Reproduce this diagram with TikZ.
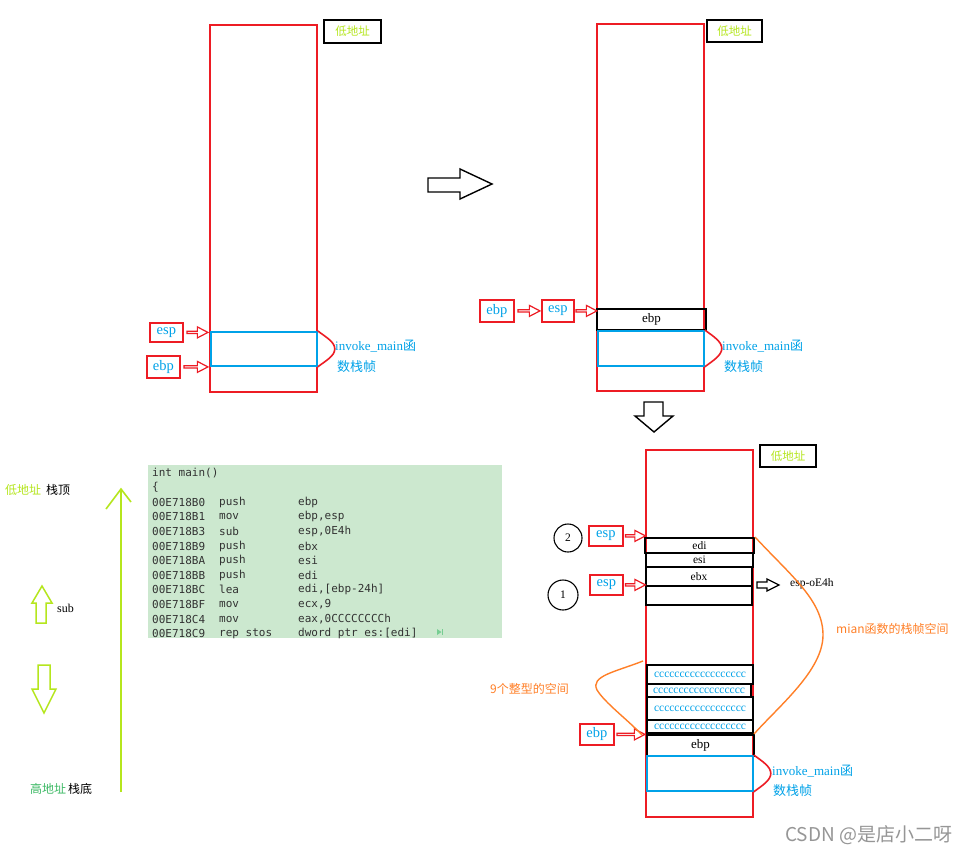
\documentclass[tikz,border=0pt]{standalone}
\usepackage{fontspec}
\setmainfont{Liberation Serif}
\newfontfamily\cjk{Noto Sans CJK SC}
\newfontfamily\codefont{DejaVu Sans Mono}
\usetikzlibrary{calc,shapes.arrows}
\definecolor{pred}{RGB}{237,28,36}
\definecolor{pblue}{RGB}{0,162,232}
\definecolor{plime}{RGB}{181,230,29}
\definecolor{porange}{RGB}{255,127,39}
\definecolor{pgreen}{RGB}{60,185,100}
\definecolor{codebg}{RGB}{204,232,207}
\definecolor{codefg}{RGB}{50,50,50}
\definecolor{wmgray}{RGB}{150,150,150}
\tikzset{
  stackbox/.style={draw=pred, line width=1.7pt, anchor=north west, inner sep=0pt},
  slot/.style={draw=black, line width=2pt, anchor=north west, inner sep=0pt, font=\fontsize{11.5}{11.5}\selectfont},
  frame/.style={draw=pblue, line width=1.8pt, anchor=north west, inner sep=0pt},
  reg/.style={draw=pred, line width=1.8pt, anchor=north west, inner sep=0pt, text=pblue, font=\fontsize{14.5}{14.5}\selectfont},
  lowaddr/.style={draw=black, line width=2pt, anchor=north west, inner sep=0pt, text=plime, font=\cjk\fontsize{11.5}{11.5}\selectfont},
  redarr/.style={single arrow, draw=pred, line width=1.2pt, fill=white, inner sep=0pt, minimum width=11pt, single arrow head extend=2.5pt, single arrow tip angle=55, minimum height=#1},
  bluetxt/.style={anchor=west, inner sep=0pt, text=pblue, font=\fontsize{13}{13}\selectfont},
  oratxt/.style={anchor=west, inner sep=0pt, text=porange, font=\cjk\fontsize{12}{12}\selectfont},
  plain/.style={anchor=west, inner sep=0pt, font=\fontsize{12}{12}\selectfont},
  code/.style={anchor=west, inner sep=0pt, text=codefg, font=\codefont\fontsize{11}{11}\selectfont},
  ccc/.style={slot, text=pblue},
  bracket/.style={draw=pred, line width=1.6pt},
  num/.style={circle, draw=black, line width=1.1pt, inner sep=0pt, minimum size=28pt, font=\fontsize{11.5}{11.5}\selectfont},
  bigarr/.style={draw=black, line width=1.4pt, fill=white},
  greenarr/.style={draw=plime, line width=1.5pt, fill=white}
}
\newcommand{\asmline}[4]{%
  \node[code] (ad#1) at (152,{473+14.6*#1}) {#2};
  \node[code] (op#1) at (219,{473+14.6*#1}) {#3};
  \node[code] (ar#1) at (298,{473+14.6*#1}) {#4};}
\begin{document}
\begin{tikzpicture}[x=1pt,y=-1pt]
\useasboundingbox (0,0) rectangle (971,856);
\fill[white] (0,0) rectangle (971,856);

% ---------- top-left stack ----------
\node[stackbox, minimum width=107pt, minimum height=367pt] (stackA) at (209,24) {};
\node[lowaddr, minimum width=57pt, minimum height=23pt] (lowA) at (323,19) {低地址};
\node[frame, minimum width=106pt, minimum height=34pt] (frameA) at (210,331) {};
\node[reg, minimum width=33pt, minimum height=19pt] (espA) at (149,322) {esp};
\node[reg, minimum width=33pt, minimum height=22pt] (ebpA) at (146,355) {ebp};
\path (espA.east) -- (espA.east -| stackA.west) node[midway, redarr=21pt] (arA1) {};
\path (ebpA.east) -- (ebpA.east -| stackA.west) node[midway, redarr=24pt] (arA2) {};
\draw[bracket] (frameA.north east) .. controls +(8,6) and +(0,-7) .. ($(frameA.east)+(17,0)$)
  .. controls +(0,7) and +(8,-6) .. (frameA.south east);
\node[bluetxt] (invA1) at (335,346) {invoke\_main{\cjk 函}};
\node[bluetxt] (invA2) at (337,367) {\cjk 数栈帧};

% big right arrow
\draw[bigarr] (428,178) -- (460,178) -- (460,169) -- (492,184) -- (460,199) -- (460,192) -- (428,192) -- cycle;

% ---------- top-right stack ----------
\node[stackbox, minimum width=107pt, minimum height=367pt] (stackB) at (596,23) {};
\node[lowaddr, minimum width=55pt, minimum height=22pt] (lowB) at (706,19) {低地址};
\node[slot, minimum width=109pt, minimum height=21pt, font=\fontsize{13}{13}\selectfont] (ebpSlotB) at (596,308) {ebp};
\node[frame, minimum width=106pt, minimum height=35pt] (frameB) at (597,330) {};
\node[reg, minimum width=34pt, minimum height=22pt] (ebpB) at (479,299) {ebp};
\node[reg, minimum width=32pt, minimum height=22pt] (espB) at (541,299) {esp};
\path (ebpB.east) -- (espB.west) node[midway, redarr=22pt] (arB1) {};
\path (espB.east) -- (espB.east -| stackB.west) node[midway, redarr=21pt] (arB2) {};
\draw[bracket] (frameB.north east) .. controls +(8,6) and +(0,-7) .. ($(frameB.east)+(17,0)$)
  .. controls +(0,7) and +(8,-6) .. (frameB.south east);
\node[bluetxt] (invB1) at (722,346) {invoke\_main{\cjk 函}};
\node[bluetxt] (invB2) at (724,367) {\cjk 数栈帧};

% big down arrow
\draw[bigarr] (644,402) -- (663,402) -- (663,416) -- (673,416) -- (654,432) -- (635,416) -- (644,416) -- cycle;

% ---------- bottom-right stack ----------
\node[stackbox, minimum width=107pt, minimum height=367pt] (stackC) at (645,449) {};
\node[lowaddr, minimum width=56pt, minimum height=22pt] (lowC) at (759,444) {低地址};
\node[slot, minimum width=109pt, minimum height=15pt] (edi) at (644,537) {edi};
\node[slot, minimum width=107pt, minimum height=14pt] (esi) at (645,552) {esi};
\node[slot, minimum width=106pt, minimum height=19pt] (ebx) at (645,566) {ebx};
\node[slot, minimum width=106pt, minimum height=19pt] (emp) at (645,585) {};
\node[ccc, minimum width=106pt, minimum height=19pt] (c1) at (646,664) {cccccccccccccccccc};
\node[ccc, minimum width=104pt, minimum height=13pt] (c2) at (646,683) {cccccccccccccccccc};
\node[ccc, minimum width=106pt, minimum height=23pt] (c3) at (646,696) {cccccccccccccccccc};
\node[ccc, minimum width=106pt, minimum height=13pt] (c4) at (646,719) {cccccccccccccccccc};
\node[slot, minimum width=107pt, minimum height=21pt, font=\fontsize{13}{13}\selectfont] (ebpSlotC) at (646,734) {ebp};
\node[frame, minimum width=106pt, minimum height=35pt] (frameC) at (646,755) {};
\draw[bracket] (frameC.north east) .. controls +(8,6) and +(0,-7) .. ($(frameC.east)+(17,0)$)
  .. controls +(0,7) and +(8,-6) .. (frameC.south east);
\node[bluetxt] (invC1) at (772,771) {invoke\_main{\cjk 函}};
\node[bluetxt] (invC2) at (773,791) {\cjk 数栈帧};

\node[reg, minimum width=34pt, minimum height=20pt] (esp2) at (588,525) {esp};
\node[reg, minimum width=33pt, minimum height=20pt] (esp1) at (589,574) {esp};
\node[reg, minimum width=34pt, minimum height=21pt] (ebpC) at (579,723) {ebp};
\path (esp2.east) -- (esp2.east -| stackC.west) node[midway, redarr=20pt] (arC1) {};
\path (esp1.east) -- (esp1.east -| stackC.west) node[midway, redarr=20pt] (arC2) {};
\path (ebpC.east) -- (ebpC.east -| stackC.west) node[midway, redarr=28pt] (arC3) {};
\node[num] (n2) at (568,538) {2};
\node[num, minimum size=30pt] (n1) at (563,595) {1};

\draw[bigarr, line width=1.3pt] (757,582) -- (767,582) -- (767,579) -- (779,585) -- (767,591) -- (767,588) -- (757,588) -- cycle;
\node[plain, font=\fontsize{11.5}{11.5}\selectfont] (espE4h) at (790,584) {esp-oE4h};

% orange braces
\draw[porange, line width=1.4pt] (edi.north east) .. controls (790,575) and (823,600) .. (823,635)
  .. controls (823,670) and (780,705) .. (c4.south east);
\node[oratxt] (mianTxt) at (836,629) {mian函数的栈帧空间};
\draw[porange, line width=1.4pt] ($(c1.north west)+(-3,-3)$) .. controls (615,672) and (590,676) .. (597,690)
  .. controls (605,703) and (628,720) .. ($(c4.south west)+(-4,1)$);
\node[oratxt] (nineTxt) at (490,689) {9个整型的空间};

% ---------- code block ----------
\fill[codebg] (148,465) rectangle (502,638);
\node[code] (l0) at (152,473) {int main()};
\node[code] (l1) at (152,{473+14.6}) {\{};
\asmline{2}{00E718B0}{push}{ebp}
\asmline{3}{00E718B1}{mov}{ebp,esp}
\asmline{4}{00E718B3}{sub}{esp,0E4h}
\asmline{5}{00E718B9}{push}{ebx}
\asmline{6}{00E718BA}{push}{esi}
\asmline{7}{00E718BB}{push}{edi}
\asmline{8}{00E718BC}{lea}{edi,[ebp-24h]}
\asmline{9}{00E718BF}{mov}{ecx,9}
\asmline{10}{00E718C4}{mov}{eax,0CCCCCCCCh}
\asmline{11}{00E718C9}{rep stos}{dword ptr es:[edi]}
\fill[pgreen!70] (437,629) -- (437,635) -- (441.5,632) -- cycle;
\draw[pgreen!70, line width=0.8pt] (442.5,629) -- (442.5,635);

% ---------- left legend ----------
\node[anchor=west, inner sep=0pt, font=\cjk\fontsize{12}{12}\selectfont] (lowL) at (5,490) {\textcolor{plime}{低地址}\hspace{5pt}栈顶};
\node[anchor=west, inner sep=0pt, font=\cjk\fontsize{12}{12}\selectfont] (highL) at (30,789) {\textcolor{pgreen}{高地址}\hspace{2pt}栈底};
\coordinate (axisBot) at (121,792);
\coordinate (axisTop) at (121,489);
\draw[plime, line width=2pt] (axisBot) -- (axisTop);
\draw[plime, line width=1.6pt] (106,509) -- (axisTop) -- (131,502);
\draw[greenarr] (36,623) -- (36,603) -- (32,603) -- (42,586) -- (52,603) -- (46,603) -- (46,623) -- cycle;
\node[plain] (subTxt) at (57,608) {sub};
\draw[greenarr] (38,665) -- (50,665) -- (50,689) -- (56,689) -- (44,713) -- (32,689) -- (38,689) -- cycle;

% watermark
\node[anchor=west, inner sep=0pt, text=wmgray, font=\cjk\fontsize{19}{19}\selectfont] (wm) at (785,835) {CSDN @是店小二呀};
\end{tikzpicture}
\end{document}
